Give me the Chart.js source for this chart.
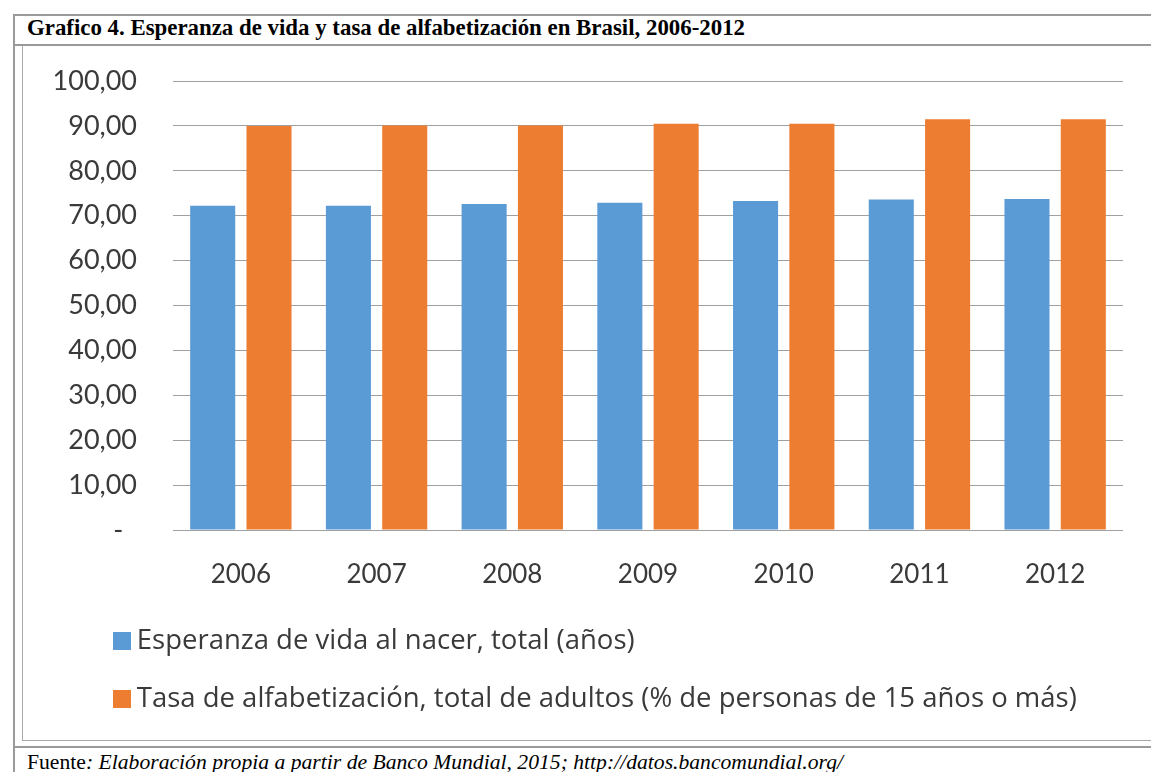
<!DOCTYPE html>
<html>
<head>
<meta charset="utf-8">
<script src="https://cdn.jsdelivr.net/npm/chart.js@4"></script>
<style>
    html, body { margin: 0; padding: 0; background: #fff; overflow: hidden; }
    body { width: 1151px; height: 772px; position: relative; }
    .line { position: absolute; background: #9a9a9a; }
    .txt { position: absolute; white-space: nowrap; transform-origin: 0 50%; color: #000;
           font-family: "Liberation Serif", "DejaVu Serif", serif; }
    #title { left: 27px; top: 14px; font-size: 23px; font-weight: bold; line-height: 28px; }
    #fuente { left: 27px; top: 749px; font-size: 21px; line-height: 26px; }
    #chartBox { position: absolute; left: 23px; top: 46px; width: 1128px; height: 694px; }
</style>
</head>
<body>
<!-- marcos de la tabla -->
<div class="line" style="left:13px; top:14px; width:1200px; height:2px;"></div>
<div class="line" style="left:13px; top:14px; width:2px; height:800px;"></div>
<div class="line" style="left:13px; top:44px; width:1200px; height:2px;"></div>
<div class="line" style="left:22px; top:46px; width:1px; height:695px; background:#a8a8a8;"></div>
<div class="line" style="left:22px; top:740px; width:1200px; height:1px; background:#a8a8a8;"></div>
<div class="line" style="left:13px; top:746px; width:1200px; height:2px;"></div>

<div id="title" class="txt">Grafico 4. Esperanza de vida y tasa de alfabetización en Brasil, 2006-2012</div>
<div id="fuente" class="txt">Fuente<i>: Elaboración propia a partir de Banco Mundial, 2015; http://datos.bancomundial.org/</i></div>

<div id="chartBox"><canvas id="grafico"></canvas></div>

<script>
// ============================================================================
// DATOS
// ============================================================================
const anios = ['2006', '2007', '2008', '2009', '2010', '2011', '2012'];
const esperanzaVida = [72.2, 72.2, 72.6, 72.9, 73.3, 73.6, 73.7];
const alfabetizacion = [90.0, 90.1, 90.1, 90.5, 90.5, 91.5, 91.5];
const etiquetasY = [0, 10, 20, 30, 40, 50, 60, 70, 80, 90, 100];
const colores = ['#5B9BD5', '#ED7D31'];

// ajustar el ancho de los textos (fuente condensada en el original)
function ajustarAncho(id, ancho) {
    const el = document.getElementById(id);
    const w = el.getBoundingClientRect().width;
    el.style.transform = `scaleX(${ancho / w})`;
}
ajustarAncho('title', 718);
ajustarAncho('fuente', 816);

// cuadrito de la leyenda (18x18) como pointStyle
function cuadrito(color) {
    const c = document.createElement('canvas');
    c.width = 18;
    c.height = 18;
    const g = c.getContext('2d');
    g.fillStyle = color;
    g.fillRect(0, 0, 18, 18);
    return c;
}
const marcas = colores.map(cuadrito);

// mover la leyenda hacia la derecha (alineada como en Excel)
const moverLeyenda = {
    id: 'moverLeyenda',
    afterLayout(chart) {
        chart.legend.left += 67.5;
        chart.legend.right += 67.5;
    }
};

// ============================================================================
// GRÁFICO
// ============================================================================
const fuenteX = { family: 'Lato, "Open Sans", sans-serif', size: 26 };
const fuenteY = { family: 'Lato, "Open Sans", sans-serif', size: 27 };

const ctx = document.getElementById('grafico').getContext('2d');
const chart = new Chart(ctx, {
    type: 'bar',
    plugins: [moverLeyenda],
    data: {
        labels: anios,
        datasets: [
            {
                label: 'Esperanza de vida al nacer, total (años)',
                data: esperanzaVida,
                backgroundColor: colores[0],
                borderWidth: 0,
                barPercentage: 0.8,
                categoryPercentage: 0.83
            },
            {
                label: 'Tasa de alfabetización, total de adultos (% de personas de 15 años o más)',
                data: alfabetizacion,
                backgroundColor: colores[1],
                borderWidth: 0,
                barPercentage: 0.8,
                categoryPercentage: 0.83
            }
        ]
    },
    options: {
        responsive: true,
        maintainAspectRatio: false,
        animation: false,
        layout: {
            padding: { left: 0, right: 28, top: 0, bottom: 17 }
        },
        plugins: {
            tooltip: { enabled: false },
            legend: {
                position: 'bottom',
                align: 'start',
                labels: {
                    color: '#3a3a3a',
                    font: { family: '"Open Sans", Lato, sans-serif', size: 27.5 },
                    usePointStyle: true,
                    boxWidth: 2,
                    padding: 30.5,
                    generateLabels: (chart) => {
                        const items = Chart.defaults.plugins.legend.labels.generateLabels(chart);
                        items.forEach((it, i) => { it.pointStyle = marcas[i]; });
                        return items;
                    }
                }
            }
        },
        scales: {
            x: {
                grid: { display: false },
                border: { display: false },
                ticks: { color: '#3a3a3a', font: fuenteX, padding: 21 },
                afterFit: (scale) => { scale.height = 67; }
            },
            y: {
                min: etiquetasY[0],
                max: etiquetasY[etiquetasY.length - 1],
                border: { display: false },
                grid: { color: '#a0a0a0', lineWidth: 1, drawTicks: false },
                afterBuildTicks: (scale) => {
                    scale.ticks = etiquetasY.map(v => ({ value: v }));
                },
                ticks: {
                    color: '#3a3a3a',
                    font: fuenteY,
                    padding: 36,
                    callback: (v) => v === 0 ? '-\u00a0\u00a0' : v.toFixed(2).replace('.', ',')
                },
                afterFit: (scale) => {
                    scale.width = 150;
                    scale.paddingTop = 35;
                }
            }
        }
    }
});
</script>
</body>
</html>
